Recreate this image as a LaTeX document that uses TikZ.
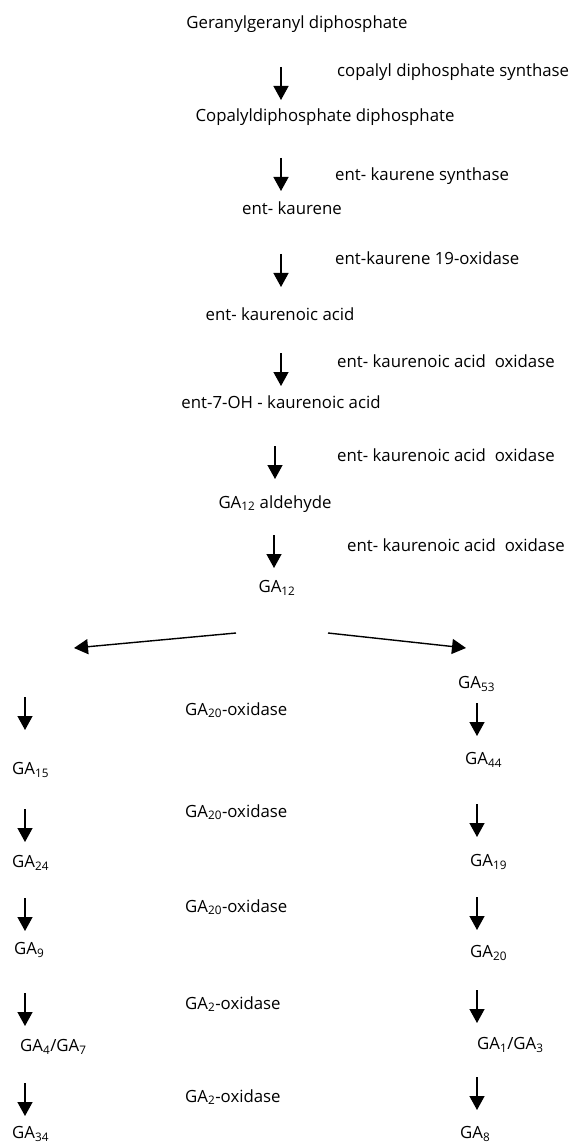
\documentclass[tikz,border=0pt]{standalone}
\usepackage{fontspec}
\setmainfont{Open Sans}
\usetikzlibrary{arrows.meta}
\newcommand{\gasub}[1]{GA\textsubscript{#1}}
\begin{document}
\begin{tikzpicture}[x=1pt,y=-1pt,
  every node/.style={font=\fontsize{16.8}{20}\selectfont,inner sep=0pt},
  lbl/.style={anchor=west},
  flow/.style={line width=1.4pt,-{Triangle[width=15pt,length=14pt]}}]
\useasboundingbox (0,0) rectangle (576,1147);
% main chain
\node (ggpp) at (297,24) {Geranylgeranyl diphosphate};
\node (cpp) at (325,117) {Copalyldiphosphate diphosphate};
\node (kau) at (292,208) {ent- kaurene};
\node (kac) at (280,314) {ent- kaurenoic acid};
\node (ohk) at (281,402) {ent-7-OH - kaurenoic acid};
\node (ald) at (275,504) {\gasub{12} aldehyde};
\node (ga12) at (277,588) {\gasub{12}};
% enzymes
\node[lbl] (e1) at (337,72) {copalyl diphosphate synthase};
\node[lbl] (e2) at (335,176) {ent- kaurene synthase};
\node[lbl] (e3) at (335,258) {ent-kaurene 19-oxidase};
\node[lbl] (e4) at (337,361) {ent- kaurenoic acid\ \ oxidase};
\node[lbl] (e5) at (337,455) {ent- kaurenoic acid\ \ oxidase};
\node[lbl] (e6) at (347,545) {ent- kaurenoic acid\ \ oxidase};
\coordinate (m1) at (281,67);
\coordinate (m2) at (281,158);
\coordinate (m3) at (281,254);
\coordinate (m4) at (281,353);
\coordinate (m5) at (275,446);
\coordinate (m6) at (274,535);
\foreach \m in {m1,m2,m3,m4,m5,m6}
  \draw[flow] (\m) -- ++(0,33);
% fork
\coordinate (fl) at (236,633);
\coordinate (fr) at (328,633);
\coordinate (tl) at (74,648);
\coordinate (tr) at (466,648);
\draw[flow] (fl) -- (tl);
\draw[flow] (fr) -- (tr);
% left branch
\node[lbl] (ga15) at (12,770) {\gasub{15}};
\node[lbl] (ga24) at (12,863) {\gasub{24}};
\node[lbl] (ga9) at (14,950) {\gasub{9}};
\node[lbl] (ga4) at (20,1047) {\gasub{4}/\gasub{7}};
\node[lbl] (ga34) at (12,1134) {\gasub{34}};
\coordinate (l1) at (25,697);
\coordinate (l2) at (25,809);
\coordinate (l3) at (25,898);
\coordinate (l4) at (25,993);
\coordinate (l5) at (25,1083);
\foreach \m in {l1,l2,l3,l4,l5}
  \draw[flow] (\m) -- ++(0,33);
% oxidases
\node[lbl] (x1) at (185,710) {\gasub{20}-oxidase};
\node[lbl] (x2) at (185,812) {\gasub{20}-oxidase};
\node[lbl] (x3) at (185,907) {\gasub{20}-oxidase};
\node[lbl] (x4) at (185,1004) {\gasub{2}-oxidase};
\node[lbl] (x5) at (185,1097) {\gasub{2}-oxidase};
% right branch
\node[lbl] (ga53) at (458,684) {\gasub{53}};
\node[lbl] (ga44) at (465,760) {\gasub{44}};
\node[lbl] (ga19) at (470,862) {\gasub{19}};
\node[lbl] (ga20) at (470,953) {\gasub{20}};
\node[lbl] (ga1) at (477,1045) {\gasub{1}/\gasub{3}};
\node[lbl] (ga8) at (460,1134) {\gasub{8}};
\coordinate (r1) at (477,703);
\coordinate (r2) at (477,804);
\coordinate (r3) at (477,897);
\coordinate (r4) at (477,990);
\coordinate (r5) at (477,1077);
\foreach \m in {r1,r2,r3,r4,r5}
  \draw[flow] (\m) -- ++(0,33);
\end{tikzpicture}
\end{document}
